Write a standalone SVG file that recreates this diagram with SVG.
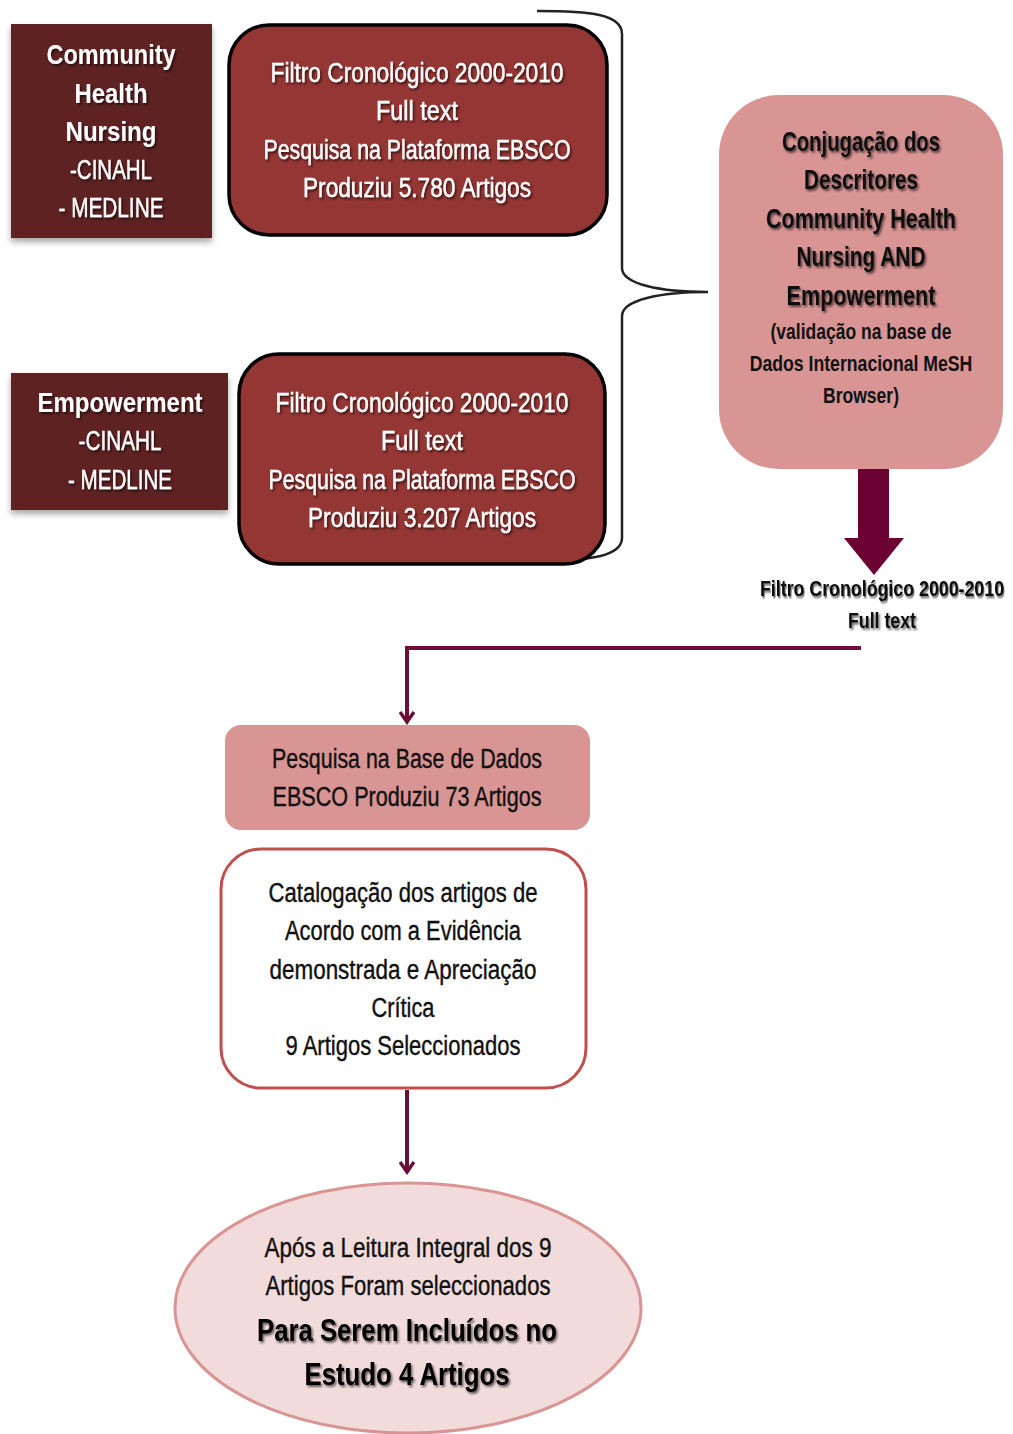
<svg xmlns="http://www.w3.org/2000/svg" width="1013" height="1434" viewBox="0 0 1013 1434">
<defs>
<filter id="ts" x="-10%" y="-20%" width="120%" height="150%"><feDropShadow dx="1.5" dy="2" stdDeviation="1" flood-color="#000" flood-opacity="0.6"/></filter>
<filter id="bs" x="-10%" y="-10%" width="120%" height="130%"><feDropShadow dx="0" dy="4" stdDeviation="3" flood-color="#000" flood-opacity="0.35"/></filter>
<marker id="ah" markerWidth="16" markerHeight="16" refX="13" refY="8" orient="auto" markerUnits="userSpaceOnUse" viewBox="0 0 16 16"><path d="M3,1 L13,8 L3,15" fill="none" stroke="#6b0d36" stroke-width="3.5"/></marker>
</defs>
<style>
text{font-family:"Liberation Sans",Arial,sans-serif;text-anchor:middle}
.w{fill:#fff;font-size:27px;filter:url(#ts);stroke:#fff;stroke-width:0.4}
.wb{fill:#fff;font-size:28px;font-weight:bold;filter:url(#ts)}
.d{fill:#111;font-size:27px;stroke:#111;stroke-width:0.4}
.db{fill:#111;font-size:27px;font-weight:bold;filter:url(#ts)}
.ds{fill:#111;font-size:22px;font-weight:bold}
.big{fill:#000;font-size:32px;font-weight:bold;filter:url(#ts)}
.dark{fill:#5f2020;filter:url(#bs)}
.red{fill:#943634;stroke:#000;stroke-width:3.5}
.pink{fill:#d99594}
.conn{fill:none;stroke:#6b0d36;stroke-width:4}
</style>
<rect width="1013" height="1434" fill="#fff"/>
<g id="connectors">
<path d="M537,11 C590,11 622,14 622,34 L622,268 C622,284 660,292 708,292 C660,292 622,300 622,316 L622,538 C622,556 590,561 537,561" fill="none" stroke="#222" stroke-width="2.5"/>
<path d="M858,469 L889,469 L889,538 L904,538 L874,575 L844,538 L858,538 Z" fill="#6b0033"/>
<path class="conn" d="M861,648 L405,648"/>
<path class="conn" d="M407,650 L407,722" marker-end="url(#ah)"/>
<path class="conn" d="M407,1090 L407,1172" marker-end="url(#ah)"/>
</g>
<g id="chn">
<rect class="dark" x="11" y="24" width="201" height="214"/>
<text class="wb" x="111" y="64" textLength="129" lengthAdjust="spacingAndGlyphs">Community</text>
<text class="wb" x="111" y="103" textLength="73" lengthAdjust="spacingAndGlyphs">Health</text>
<text class="wb" x="111" y="141" textLength="91" lengthAdjust="spacingAndGlyphs">Nursing</text>
<text class="w" x="111" y="179" textLength="82" lengthAdjust="spacingAndGlyphs">-CINAHL</text>
<text class="w" x="111" y="217" textLength="105" lengthAdjust="spacingAndGlyphs">- MEDLINE</text>
</g>
<g id="filtro1">
<rect class="red" x="229" y="25" width="378" height="210" rx="40"/>
<text class="w" x="417" y="82" textLength="293" lengthAdjust="spacingAndGlyphs">Filtro Cronológico  2000-2010</text>
<text class="w" x="417" y="120" textLength="82" lengthAdjust="spacingAndGlyphs">Full text</text>
<text class="w" x="417" y="159" textLength="307" lengthAdjust="spacingAndGlyphs">Pesquisa na Plataforma EBSCO</text>
<text class="w" x="417" y="197" textLength="228" lengthAdjust="spacingAndGlyphs">Produziu  5.780 Artigos</text>
</g>
<g id="emp">
<rect class="dark" x="11" y="373" width="217" height="137"/>
<text class="wb" x="120" y="412" textLength="165" lengthAdjust="spacingAndGlyphs">Empowerment</text>
<text class="w" x="120" y="450" textLength="83" lengthAdjust="spacingAndGlyphs">-CINAHL</text>
<text class="w" x="120" y="489" textLength="104" lengthAdjust="spacingAndGlyphs">- MEDLINE</text>
</g>
<g id="filtro2">
<rect class="red" x="239" y="354" width="366" height="210" rx="40"/>
<text class="w" x="422" y="412" textLength="293" lengthAdjust="spacingAndGlyphs">Filtro Cronológico  2000-2010</text>
<text class="w" x="422" y="450" textLength="82" lengthAdjust="spacingAndGlyphs">Full text</text>
<text class="w" x="422" y="489" textLength="307" lengthAdjust="spacingAndGlyphs">Pesquisa na Plataforma EBSCO</text>
<text class="w" x="422" y="527" textLength="228" lengthAdjust="spacingAndGlyphs">Produziu  3.207 Artigos</text>
</g>
<g id="conj">
<rect class="pink" x="719" y="95" width="284" height="374" rx="60"/>
<text class="db" x="861" y="151" textLength="158" lengthAdjust="spacingAndGlyphs">Conjugação dos</text>
<text class="db" x="861" y="189" textLength="114" lengthAdjust="spacingAndGlyphs">Descritores</text>
<text class="db" x="861" y="228" textLength="190" lengthAdjust="spacingAndGlyphs">Community Health</text>
<text class="db" x="861" y="266" textLength="129" lengthAdjust="spacingAndGlyphs">Nursing AND</text>
<text class="db" x="861" y="305" textLength="149" lengthAdjust="spacingAndGlyphs">Empowerment</text>
<text class="ds" x="861" y="339" textLength="181" lengthAdjust="spacingAndGlyphs">(validação na base de</text>
<text class="ds" transform="translate(861,371) scale(0.75,1)" x="0" y="0" textLength="297" lengthAdjust="spacingAndGlyphs">Dados Internacional MeSH</text>
<text class="ds" x="861" y="403" textLength="76" lengthAdjust="spacingAndGlyphs">Browser)</text>
</g>
<g id="filtroLabel">
<text class="ds" transform="translate(882,596) scale(0.72,1)" x="0" y="0" filter="url(#ts)" textLength="339" lengthAdjust="spacingAndGlyphs">Filtro Cronológico 2000-2010</text>
<text class="ds" x="882" y="628" filter="url(#ts)" textLength="68" lengthAdjust="spacingAndGlyphs">Full text</text>
</g>
<g id="pesquisa">
<rect class="pink" x="225" y="725" width="365" height="105" rx="16"/>
<text class="d" x="407" y="768" textLength="270" lengthAdjust="spacingAndGlyphs">Pesquisa na Base de Dados</text>
<text class="d" x="407" y="806" textLength="269" lengthAdjust="spacingAndGlyphs">EBSCO Produziu  73 Artigos</text>
</g>
<g id="catalog">
<rect x="221" y="849" width="365" height="239" rx="40" fill="#fff" stroke="#c0504d" stroke-width="3"/>
<text class="d" x="403" y="902" textLength="269" lengthAdjust="spacingAndGlyphs">Catalogação dos artigos de</text>
<text class="d" x="403" y="940" textLength="236" lengthAdjust="spacingAndGlyphs">Acordo com a Evidência</text>
<text class="d" x="403" y="979" textLength="267" lengthAdjust="spacingAndGlyphs">demonstrada  e Apreciação</text>
<text class="d" x="403" y="1017" textLength="63" lengthAdjust="spacingAndGlyphs">Crítica</text>
<text class="d" x="403" y="1055" textLength="235" lengthAdjust="spacingAndGlyphs">9 Artigos Seleccionados</text>
</g>
<g id="final">
<ellipse cx="408" cy="1308" rx="233" ry="125" fill="#f2dcdb" stroke="#d99594" stroke-width="3"/>
<text class="d" x="408" y="1257" textLength="287" lengthAdjust="spacingAndGlyphs">Após a Leitura Integral dos 9</text>
<text class="d" x="408" y="1295" textLength="285" lengthAdjust="spacingAndGlyphs">Artigos Foram seleccionados</text>
<text class="big" x="407" y="1341" textLength="300" lengthAdjust="spacingAndGlyphs">Para Serem Incluídos no</text>
<text class="big" x="407" y="1385" textLength="205" lengthAdjust="spacingAndGlyphs">Estudo 4 Artigos</text>
</g>
</svg>
